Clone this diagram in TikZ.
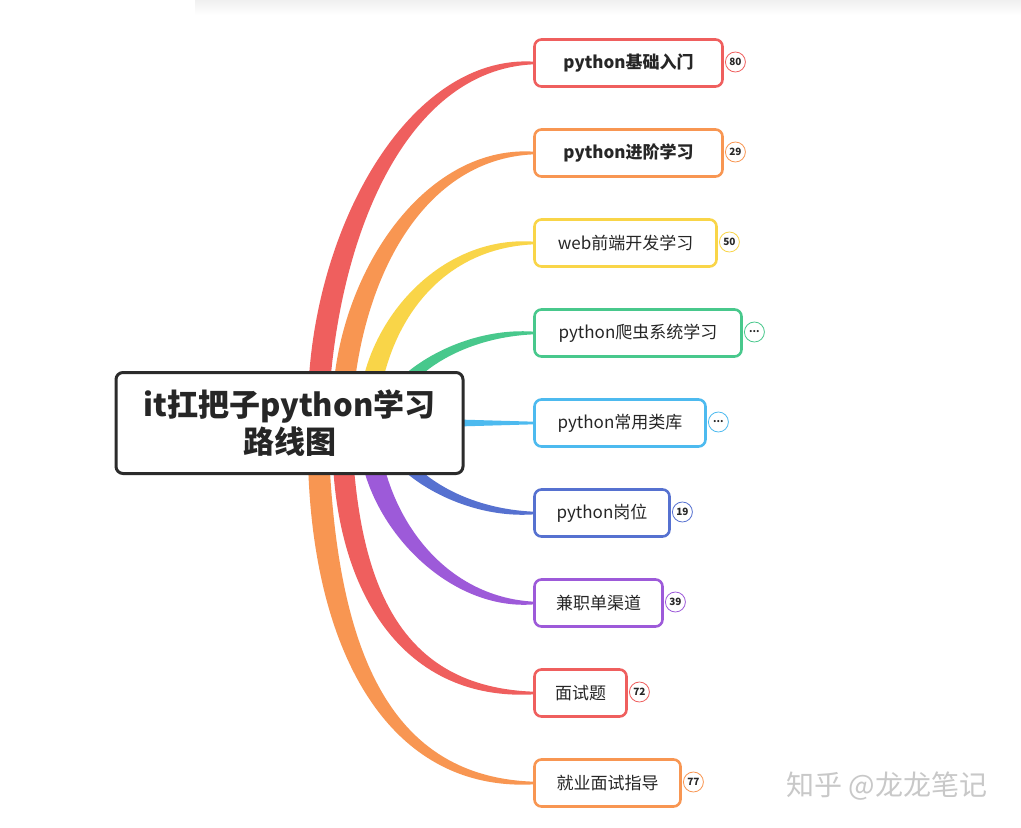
\documentclass[tikz,border=0pt]{standalone}
\usepackage{fontspec}
\setmainfont{Noto Sans CJK SC}
\usetikzlibrary{calc,backgrounds}
\definecolor{cRed}{HTML}{EF5F5E}
\definecolor{cOrange}{HTML}{F89652}
\definecolor{cYellow}{HTML}{F9D548}
\definecolor{cGreen}{HTML}{48C88C}
\definecolor{cBlue}{HTML}{4DBAEF}
\definecolor{cIndigo}{HTML}{5671D0}
\definecolor{cPurple}{HTML}{9D5AD9}
\definecolor{cRoot}{HTML}{2B2B2B}
\definecolor{cText}{HTML}{262626}
\definecolor{cMark}{HTML}{C8C8C8}
\tikzset{
  root/.style={draw=cRoot, line width=3pt, rounded corners=7pt, fill=white,
    minimum width=347pt, minimum height=101pt, outer sep=0pt, align=center,
    text=cText, font=\fontsize{31}{37}\selectfont\bfseries},
  kid/.style={draw=#1, line width=2.6pt, rounded corners=7pt, fill=white,
    minimum height=47pt, anchor=west, outer sep=0pt, inner xsep=0pt,
    text=cText, font=\fontsize{17}{20}\selectfont},
  kidbold/.style={kid=#1, font=\fontsize{17}{20}\selectfont\bfseries},
  badge/.style={circle, draw=#1, line width=0.8pt, fill=white, minimum size=20pt,
    inner sep=0pt, anchor=west, text=cText,
    font=\fontsize{10}{10}\selectfont\bfseries},
  watermark/.style={text=cMark, font=\fontsize{28}{30}\selectfont}
}
% #1 start coordinate name, #2 end node, #3 xs, #4 ye, #5 width, #6 colour, #7 f1, #8 f2, #9 sign
\newcommand\mybranch[9]{%
  \pgfmathsetmacro\bxa{#3-#5*0.75}%
  \pgfmathsetmacro\bxb{#3+#5*0.75}%
  \pgfmathsetmacro\bcy{423+(#4-423)*#7}%
  \pgfmathsetmacro\bcx{#3+(533-#3)*#8}%
  \pgfmathsetmacro\bca{#4+#9*#5*0.5}%
  \pgfmathsetmacro\bcb{#4-#9*#5*0.3}%
  \pgfmathsetmacro\bda{#9*1.3}%
  \pgfmathsetmacro\bdb{-#9*1.3}%
  \coordinate (#1) at (#3,423);
  \fill[#6] ($(#1)+(-#5/2,0)$) .. controls (\bxa,\bcy) and (\bcx,\bca) .. ($(#2.west)+(0,\bda)$)
     -- ($(#2.west)+(0,\bdb)$) .. controls (\bcx,\bcb) and (\bxb,\bcy) .. ($(#1)+(#5/2,0)$) -- cycle;
}
\begin{document}
\begin{tikzpicture}[x=1pt,y=-1pt]
\useasboundingbox (0,0) rectangle (1021,828);

% central topic
\node[root] (root) at (289.5,423) {it扛把子python学习\\路线图};

% sub topics
\node[kidbold=cRed,    minimum width=188pt] (k1) at (534.5,63)  {python基础入门};
\node[kidbold=cOrange, minimum width=188pt] (k2) at (534.5,153) {python进阶学习};
\node[kid=cYellow,     minimum width=182pt] (k3) at (534.5,243) {web前端开发学习};
\node[kid=cGreen,      minimum width=207pt] (k4) at (534.5,333) {python爬虫系统学习};
\node[kid=cBlue,       minimum width=171pt] (k5) at (534.5,423) {python常用类库};
\node[kid=cIndigo,     minimum width=135pt] (k6) at (534.5,513) {python岗位};
\node[kid=cPurple,     minimum width=128pt] (k7) at (534.5,603) {兼职单渠道};
\node[kid=cRed,        minimum width=92pt]  (k8) at (534.5,693) {面试题};
\node[kid=cOrange,     minimum width=146pt] (k9) at (534.5,783) {就业面试指导};

% badges
\node[badge=cRed]    (b1) at ($(k1.east)+(2.5,-1)$) {80};
\node[badge=cOrange] (b2) at ($(k2.east)+(2.5,-1)$) {29};
\node[badge=cYellow] (b3) at ($(k3.east)+(2.5,-1)$) {50};
\node[badge=cGreen]  (b4) at ($(k4.east)+(2.5,-1)$) {...};
\node[badge=cBlue]   (b5) at ($(k5.east)+(2.5,-1)$) {...};
\node[badge=cIndigo] (b6) at ($(k6.east)+(2.5,-1)$) {19};
\node[badge=cPurple] (b7) at ($(k7.east)+(2.5,-1)$) {39};
\node[badge=cRed]    (b8) at ($(k8.east)+(2.5,-1)$) {72};
\node[badge=cOrange] (b9) at ($(k9.east)+(2.5,-1)$) {77};

% background and branches (behind the boxes)
\begin{scope}[on background layer]
\fill[white] (0,0) rectangle (1021,828);
\shade[top color=black!6, bottom color=white] (195,0) rectangle (1021,15);
\mybranch{s1}{k1}{318}{63}{20}{cRed}{0.5}{0.4}{-1}
\mybranch{s2}{k2}{342}{153}{19}{cOrange}{0.5}{0.4}{-1}
\mybranch{s3}{k3}{368}{243}{18}{cYellow}{0.5}{0.4}{-1}
\mybranch{s4}{k4}{385}{333}{15}{cGreen}{0.45}{0.47}{-1}
\coordinate (s5) at (440,423);
\fill[cBlue] ($(s5)+(0,-4)$) -- ($(k5.west)+(0,-1.3)$) -- ($(k5.west)+(0,1.3)$) -- ($(s5)+(0,4)$) -- cycle;
\mybranch{s6}{k6}{385}{513}{15}{cIndigo}{0.45}{0.47}{1}
\mybranch{s7}{k7}{368}{603}{19}{cPurple}{0.5}{0.45}{1}
\mybranch{s8}{k8}{342}{693}{19}{cRed}{0.6}{0.3}{1}
\mybranch{s9}{k9}{318}{783}{20}{cOrange}{0.6}{0.3}{1}
\end{scope}

% watermark
\node[watermark] (wm) at (887,786) {知乎 @龙龙笔记};
\end{tikzpicture}
\end{document}
